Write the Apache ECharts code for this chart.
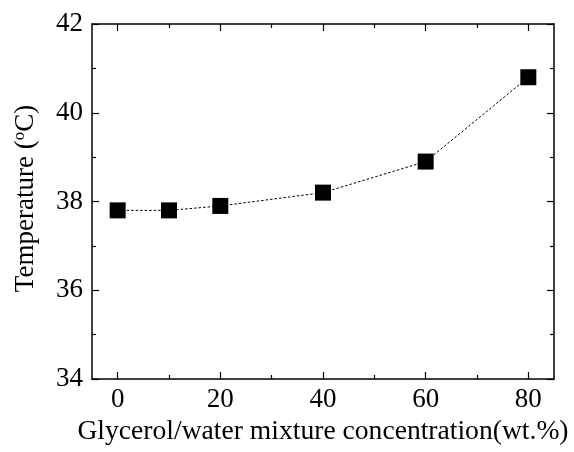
<!DOCTYPE html><html><head><meta charset="utf-8">
<script src="https://cdn.jsdelivr.net/npm/echarts@6/dist/echarts.min.js"></script>
<style>html,body{margin:0;padding:0;background:#fff}#c{width:574px;height:452px}</style>
</head><body><div id="c"></div><script>
const concentration = [0, 10, 20, 40, 60, 80];
const temperature = [37.8, 37.8, 37.9, 38.2, 38.9, 40.8];
const xMajorTicks = [0, 20, 40, 60, 80];
const xMinorTicks = [10, 30, 50, 70];
const xTitle = 'Glycerol/water mixture concentration(wt.%)';
const yTitle = 'Temperature ({sup|o}C)';

const FONT = 'Liberation Serif';
const chart = echarts.init(document.getElementById('c'));
const line = { show: true, onZero: false, lineStyle: { color: '#000', width: 1.5 } };
function xAx(pos, ticks, len, showLine, labels) {
  return {
    type: 'value', position: pos, min: -5, max: 85,
    axisLine: showLine ? line : { show: false },
    axisTick: { show: true, inside: true, length: len, customValues: ticks, lineStyle: { color: '#000', width: 1.2 } },
    axisLabel: labels ? { show: true, customValues: ticks, margin: 7, fontFamily: FONT, fontSize: 27, color: '#000' } : { show: false },
    splitLine: { show: false }
  };
}
const xAxes = [xAx('bottom', xMajorTicks, 7, true, true), xAx('bottom', xMinorTicks, 4, false, false),
               xAx('top', xMajorTicks, 7, true, false), xAx('top', xMinorTicks, 4, false, false)];
xAxes[0].name = xTitle;
xAxes[0].nameLocation = 'middle';
xAxes[0].nameGap = 38;
xAxes[0].nameTextStyle = { fontFamily: FONT, fontSize: 27.6, color: '#000' };
function yAx(pos, labels) {
  return {
    type: 'value', position: pos, min: 34, max: 42, interval: 2,
    axisLine: line,
    axisTick: { show: true, inside: true, length: 7, lineStyle: { color: '#000', width: 1.2 } },
    minorTick: { show: true, splitNumber: 2, length: 4, lineStyle: { color: '#000', width: 1.2 } },
    axisLabel: labels ? { show: true, margin: 9, fontFamily: FONT, fontSize: 27, color: '#000' } : { show: false },
    splitLine: { show: false }, minorSplitLine: { show: false }
  };
}
const yAxes = [yAx('left', true), yAx('right', false)];
yAxes[0].name = yTitle;
yAxes[0].nameLocation = 'middle';
yAxes[0].nameGap = 52;
yAxes[0].nameTextStyle = { fontFamily: FONT, fontSize: 27, color: '#000', padding: [0, 0, 0, 6],
  rich: { sup: { fontFamily: FONT, fontSize: 17, color: '#000', verticalAlign: 'top', padding: [0, 0, 12, 0] } } };

chart.setOption({
  animation: false,
  grid: { left: 92, right: 20, top: 24, bottom: 73 },
  xAxis: xAxes,
  yAxis: yAxes,
  series: [{
    type: 'line', xAxisIndex: 0, yAxisIndex: 0,
    data: concentration.map((c, i) => [c, temperature[i]]),
    symbol: 'rect', symbolSize: 16,
    itemStyle: { color: '#000' },
    lineStyle: { color: '#000', width: 1, type: [2.5, 2] }
  }]
});
</script></body></html>
